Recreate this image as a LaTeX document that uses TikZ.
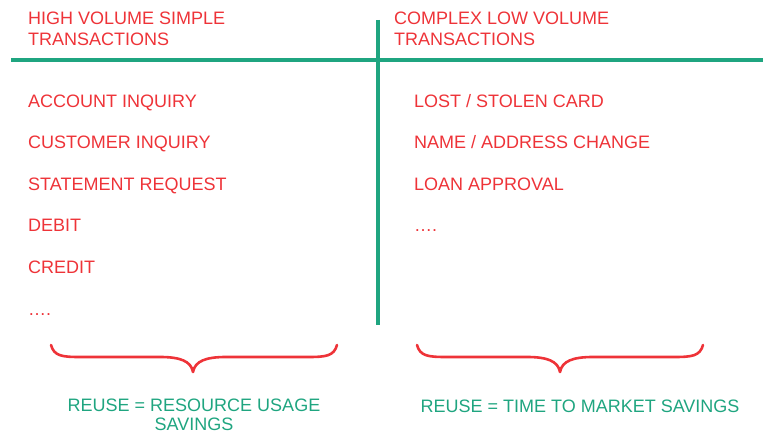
\documentclass[tikz,border=0pt]{standalone}
\usepackage{fontspec}
\setmainfont{Liberation Sans}
\definecolor{txtred}{HTML}{EE3338}
\definecolor{rulegreen}{HTML}{1FA580}
\begin{document}
\begin{tikzpicture}[x=1pt,y=-1pt,
  item/.style={anchor=base west,inner sep=0pt,text=txtred,font=\fontsize{18}{21}\selectfont},
  head/.style={item,align=left},
  note/.style={inner sep=0pt,text=rulegreen,align=center,font=\fontsize{18}{19}\selectfont},
  rule/.style={draw=rulegreen,line width=4pt},
  bracestroke/.style={draw=txtred,line width=2.6pt,line cap=round,line join=round}]
\useasboundingbox (0,0) rectangle (770,435);

% column headers (base anchor sits on the last line)
\node[head] (h1) at (28,46) {HIGH VOLUME SIMPLE\\TRANSACTIONS};
\node[head] (h2) at (394,46) {COMPLEX LOW VOLUME\\TRANSACTIONS};

% T-chart rules
\coordinate (hl) at (11,60);
\coordinate (hr) at (763,60);
\coordinate (vt) at (378,20);
\coordinate (vb) at (378,325);
\draw[rule] (hl) -- (hr);
\draw[rule] (vt) -- (vb);

% left column
\node[item] (a1) at (28,108) {ACCOUNT INQUIRY};
\node[item] (a2) at (28,149) {CUSTOMER INQUIRY};
\node[item] (a3) at (28,191) {STATEMENT REQUEST};
\node[item] (a4) at (28,232) {DEBIT};
\node[item] (a5) at (28,274) {CREDIT};
\node[item] (a6) at (28,315) {….};

% right column
\node[item] (b1) at (414,108) {LOST / STOLEN CARD};
\node[item] (b2) at (414,149) {NAME / ADDRESS CHANGE};
\node[item] (b3) at (414,191) {LOAN APPROVAL};
\node[item] (b4) at (414,232) {….};

% braces
\draw[bracestroke] (51,345) .. controls (54,356) and (62,357) .. (80,357)
  -- (160,357) .. controls (180,357) and (191,361) .. (193,372)
  .. controls (195,361) and (206,357) .. (226,357)
  -- (308,357) .. controls (326,357) and (334,356) .. (337,345);
\draw[bracestroke] (417,345) .. controls (420,356) and (428,357) .. (446,357)
  -- (527,357) .. controls (547,357) and (558,361) .. (560,372)
  .. controls (562,361) and (573,357) .. (593,357)
  -- (674,357) .. controls (692,357) and (700,356) .. (703,345);

% conclusions
\node[note] (n1) at (194,415) {REUSE = RESOURCE USAGE\\SAVINGS};
\node[note] (n2) at (580,406) {REUSE = TIME TO MARKET SAVINGS};
\end{tikzpicture}
\end{document}
